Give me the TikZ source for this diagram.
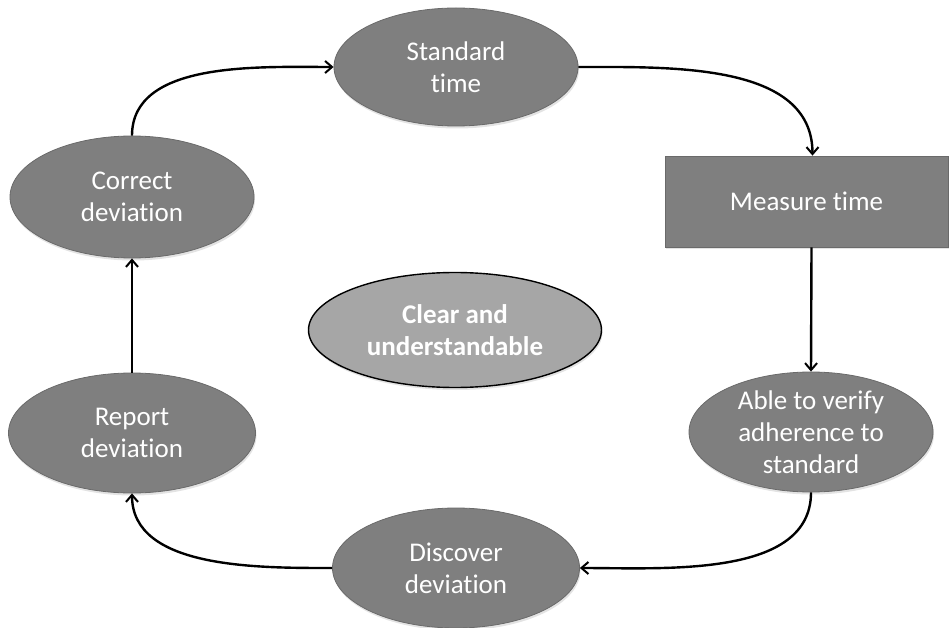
\documentclass[tikz,border=0pt]{standalone}
\usepackage{fontspec}
\setmainfont[Ligatures=NoCommon]{Carlito}
\usetikzlibrary{arrows.meta,shapes.geometric,shadows}
\definecolor{stepfill}{HTML}{7F7F7F}
\definecolor{stepline}{HTML}{6A6A6A}
\definecolor{corefill}{HTML}{A6A6A6}
\begin{document}
\begin{tikzpicture}[x=1pt,y=-1pt,
  stepnode/.style={fill=stepfill,draw=stepline,line width=0.8pt,text=white,
    align=center,inner sep=0pt,
    font=\fontsize{27}{32}\selectfont,
    drop shadow={opacity=0.22,shadow xshift=1pt,shadow yshift=-2.5pt}},
  stepellipse/.style={stepnode,ellipse,minimum width=244pt,minimum height=118pt},
  flow/.style={line width=2.4pt,-{Straight Barb[length=7pt,width=12pt,line width=2pt]}}
]
\useasboundingbox (0,0) rectangle (950,628);

% process steps around the cycle
\node[stepellipse] (std) at (456,67) {Standard\\time};
\node[stepnode,rectangle,minimum width=283pt,minimum height=91pt] (meas) at (806.5,201.5) {Measure time};
\node[stepellipse,minimum height=120pt] (verify) at (811,432) {Able to verify\\adherence to\\standard};
\node[stepellipse,minimum width=247pt,minimum height=120pt] (disc) at (456,568) {Discover\\deviation};
\node[stepellipse,minimum width=247pt,minimum height=120pt] (report) at (132,433) {Report\\deviation};
\node[stepellipse,minimum height=122pt] (correct) at (132,197) {Correct\\deviation};

% central goal
\node[ellipse,fill=corefill,draw=black,line width=1.4pt,text=white,align=center,
  inner sep=0pt,minimum width=293pt,minimum height=115pt,
  font=\bfseries\fontsize{27}{32}\selectfont,
  drop shadow={opacity=0.22,shadow xshift=1pt,shadow yshift=-2.5pt}] (goal) at (455,330) {Clear and\\understandable};

% cycle connectors
\draw[flow] (correct.north) to[out=90,in=180,looseness=0.9] (std.west);
\draw[flow] (std.east) to[out=0,in=90,looseness=0.95] ([xshift=6pt]meas.north);
\draw[flow] ([xshift=5pt]meas.south) -- (verify.north);
\draw[flow] (verify.south) to[out=-90,in=0,looseness=0.9] (disc.east);
\draw[flow] (disc.west) to[out=180,in=-90,looseness=0.9] (report.south);
\draw[flow] (report.north) -- (correct.south);
\end{tikzpicture}
\end{document}
